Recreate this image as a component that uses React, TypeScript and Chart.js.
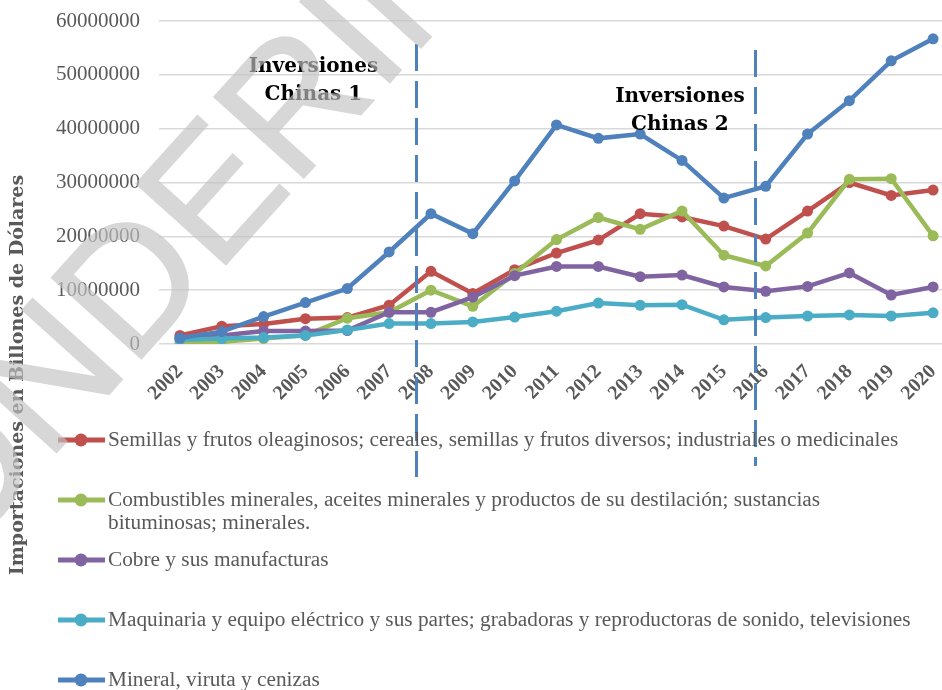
import React, { useEffect, useRef } from "react";
import { Chart, registerables } from "chart.js";

Chart.register(...registerables);

const years = ["2002", "2003", "2004", "2005", "2006", "2007", "2008", "2009", "2010", "2011", "2012", "2013", "2014", "2015", "2016", "2017", "2018", "2019", "2020"];

const seriesNames = [
  "Semillas y frutos oleaginosos; cereales, semillas y frutos diversos; industriales o medicinales",
  "Combustibles minerales, aceites minerales y productos de su destilación; sustancias bituminosas; minerales.",
  "Cobre y sus manufacturas",
  "Maquinaria y equipo eléctrico y sus partes; grabadoras y reproductoras de sonido, televisiones",
  "Mineral, viruta y cenizas",
];

const seriesColors = ["#c0504d", "#9bbb59", "#8064a2", "#4bacc6", "#4f81bd"];

const semillas = [1600000, 3300000, 3700000, 4700000, 4900000, 7200000, 13500000, 9400000, 13800000, 16900000, 19300000, 24200000, 23600000, 21900000, 19500000, 24700000, 30000000, 27600000, 28600000];
const combustibles = [100000, 400000, 1000000, 1600000, 4800000, 5900000, 10000000, 7000000, 13100000, 19400000, 23500000, 21300000, 24700000, 16500000, 14500000, 20600000, 30600000, 30700000, 20100000];
const cobre = [1000000, 1600000, 2400000, 2400000, 2500000, 5900000, 5900000, 8700000, 12700000, 14400000, 14400000, 12500000, 12800000, 10600000, 9800000, 10700000, 13200000, 9100000, 10600000];
const maquinaria = [800000, 1000000, 1200000, 1600000, 2600000, 3800000, 3800000, 4100000, 5000000, 6100000, 7600000, 7200000, 7300000, 4500000, 4900000, 5200000, 5400000, 5200000, 5800000];
const mineral = [1100000, 2300000, 5100000, 7700000, 10300000, 17100000, 24200000, 20500000, 30300000, 40700000, 38200000, 39000000, 34100000, 27100000, 29300000, 39000000, 45200000, 52600000, 56700000];

const seriesValues = [semillas, combustibles, cobre, maquinaria, mineral];

const yTicks = [0, 10000000, 20000000, 30000000, 40000000, 50000000, 60000000];

const yAxisTitle = "Importaciones en Billones de Dólares";
const periodLabels = [["Inversiones", "Chinas 1"], ["Inversiones", "Chinas 2"]];
// category positions (fractional index) of the period dividers and label centres
const dividerAt = [5.65, 13.75];
const periodLabelAt = [3.19, 11.95];
const watermarkText = "ONDERIN";

export default function App() {
  const ref = useRef<HTMLCanvasElement>(null);

  useEffect(() => {
    const canvas = ref.current;
    if (!canvas) return;

    const overlay = {
      id: "overlay",
      afterDraw(chart: any) {
        const ctx = chart.ctx as CanvasRenderingContext2D;
        const xs = chart.scales.x;

        // dashed dividers
        const dividerY = [[44, 477], [50, 466]];
        ctx.save();
        ctx.strokeStyle = "#4f81bd";
        ctx.lineWidth = 3;
        ctx.setLineDash([27, 10]);
        dividerAt.forEach((v, i) => {
          const x = Math.round(xs.getPixelForValue(v)) + 0.5;
          ctx.beginPath();
          ctx.moveTo(x, dividerY[i][0]);
          ctx.lineTo(x, dividerY[i][1]);
          ctx.stroke();
        });
        ctx.restore();

        // period labels
        const labelBase = [[72, 100], [102, 130]];
        ctx.save();
        ctx.fillStyle = "#000000";
        ctx.font = "bold 20px 'DejaVu Serif'";
        ctx.textAlign = "center";
        ctx.textBaseline = "alphabetic";
        periodLabels.forEach((lines, i) => {
          const x = xs.getPixelForValue(periodLabelAt[i]);
          lines.forEach((t, j) => ctx.fillText(t, x, labelBase[i][j]));
        });
        ctx.restore();

        // y-axis title
        ctx.save();
        ctx.translate(18, 375);
        ctx.rotate(-Math.PI / 2);
        ctx.fillStyle = "#595959";
        ctx.font = "bold 19px 'DejaVu Serif'";
        ctx.textAlign = "center";
        ctx.textBaseline = "middle";
        ctx.fillText(yAxisTitle, 0, 0);
        ctx.restore();

        // legend
        ctx.save();
        const maxW = 815;
        ctx.font = "21.3px 'Liberation Serif'";
        ctx.textAlign = "left";
        ctx.textBaseline = "middle";
        chart.data.datasets.forEach((ds: any, i: number) => {
          const y = 440 + 60 * i;
          ctx.strokeStyle = ds.borderColor;
          ctx.lineWidth = 5;
          ctx.setLineDash([]);
          ctx.beginPath();
          ctx.moveTo(58, y);
          ctx.lineTo(105, y);
          ctx.stroke();
          ctx.fillStyle = ds.borderColor;
          ctx.beginPath();
          ctx.arc(81, y, 6.5, 0, Math.PI * 2);
          ctx.fill();
          const words = String(ds.label).split(" ");
          const lines: string[] = [];
          let cur = "";
          words.forEach((w) => {
            const test = cur ? cur + " " + w : w;
            if (ctx.measureText(test).width > maxW && cur) {
              lines.push(cur);
              cur = w;
            } else cur = test;
          });
          if (cur) lines.push(cur);
          ctx.fillStyle = "#595959";
          lines.forEach((ln, j) => ctx.fillText(ln, 108, y + j * 23));
        });
        ctx.restore();

        // watermark: drawn opaque offscreen, then composited semi-transparently
        const off = document.createElement("canvas");
        off.width = chart.width;
        off.height = chart.height;
        const o = off.getContext("2d") as CanvasRenderingContext2D;
        o.translate(-44, 564);
        o.rotate((-48 * Math.PI) / 180);
        o.fillStyle = "#c3c3c3";
        o.strokeStyle = "#c3c3c3";
        o.lineWidth = 2;
        o.font = "175px 'Liberation Sans'";
        o.textAlign = "left";
        o.textBaseline = "alphabetic";
        o.fillText(watermarkText, 0, 0);
        o.strokeText(watermarkText, 0, 0);
        ctx.save();
        ctx.globalAlpha = 0.66;
        ctx.drawImage(off, 0, 0);
        ctx.restore();
      },
    };

    const chart = new Chart(canvas, {
      type: "line",
      data: {
        labels: years,
        datasets: seriesValues.map((data, i) => ({
          label: seriesNames[i],
          data,
          borderColor: seriesColors[i],
          backgroundColor: seriesColors[i],
          pointBackgroundColor: seriesColors[i],
          pointBorderColor: seriesColors[i],
          borderWidth: 4.5,
          pointRadius: 5.5,
          pointBorderWidth: 0,
          tension: 0,
          fill: false,
          order: seriesValues.length - 1 - i,
        })),
      },
      options: {
        responsive: false,
        animation: false,
        devicePixelRatio: 1,
        layout: { autoPadding: false, padding: { top: 21, right: 2, bottom: 266, left: 0 } },
        plugins: { legend: { display: false }, tooltip: { enabled: false } },
        scales: {
          x: {
            offset: true,
            grid: { display: false },
            border: { display: false },
            ticks: {
              autoSkip: false,
              minRotation: 45,
              maxRotation: 45,
              padding: 8,
              color: "#595959",
              font: { family: "Liberation Serif", weight: "bold", size: 20 },
            },
            afterFit: (s: any) => {
              s.height = 80;
              s.paddingLeft = 0;
              s.paddingRight = 0;
            },
          },
          y: {
            min: 0,
            max: 60000000,
            afterBuildTicks: (s: any) => {
              s.ticks = yTicks.map((v) => ({ value: v }));
            },
            ticks: {
              padding: 19,
              color: "#595959",
              font: { family: "Liberation Serif", size: 21 },
              callback: (v: any) => String(v),
            },
            grid: { color: "#d9d9d9", lineWidth: 1.5, drawTicks: false },
            border: { display: false },
            afterFit: (s: any) => {
              s.width = 159;
              s.paddingTop = 0;
              s.paddingBottom = 0;
            },
          },
        },
      },
      plugins: [overlay],
    });

    return () => chart.destroy();
  }, []);

  return (
    <div style={{ position: "absolute", left: 0, top: 0, width: 942, height: 690, overflow: "hidden", background: "#ffffff" }}>
      <canvas ref={ref} width={956} height={690} style={{ display: "block", width: 956, height: 690 }} />
    </div>
  );
}
